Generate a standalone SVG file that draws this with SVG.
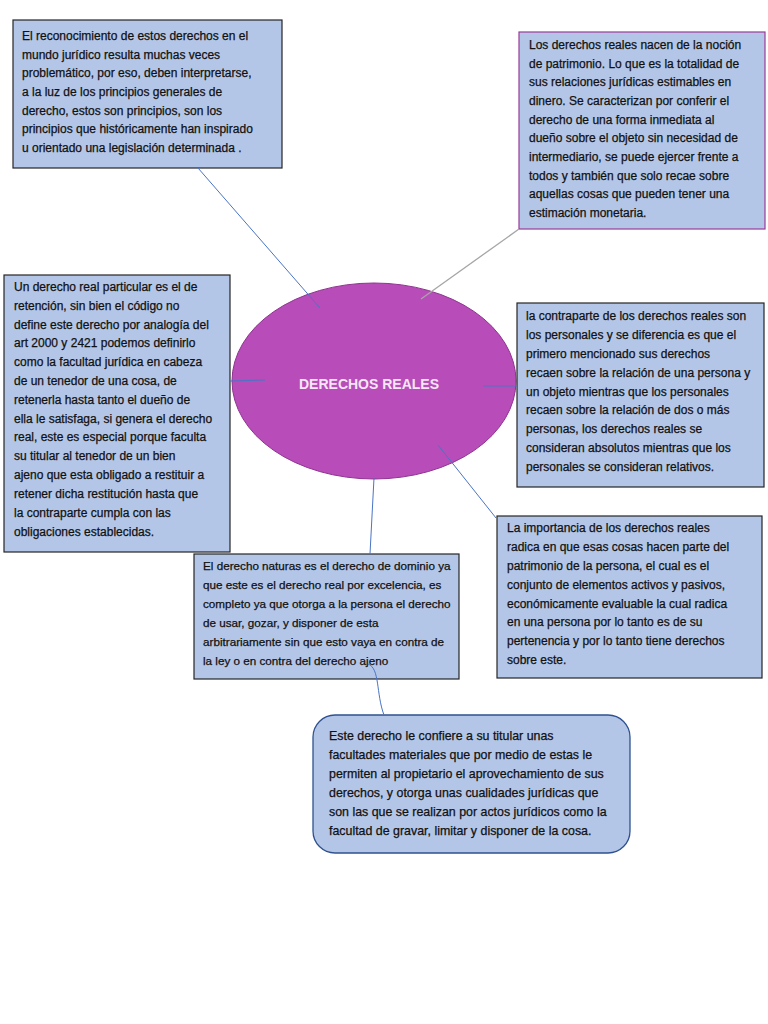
<svg xmlns="http://www.w3.org/2000/svg" width="768" height="1024" viewBox="0 0 768 1024">
<style>
.box{fill:#b4c6e7;stroke:#262626;stroke-width:1.2}
.t{font-family:"Liberation Sans",Arial,sans-serif;font-size:12px;fill:#111;stroke:#111;stroke-width:0.25}
.s{font-size:11.7px}
.r{font-size:12.4px}
.c{fill:none;stroke:#4a74c4;stroke-width:1}
</style>
<rect width="768" height="1024" fill="#ffffff"/>
<g id="n-center">
<ellipse cx="374" cy="381" rx="142" ry="98" fill="#b84cb9" stroke="#8e3490" stroke-width="1"/>
<text x="369" y="389" text-anchor="middle" font-family="Liberation Sans,Arial,sans-serif" font-weight="bold" font-size="14" fill="#f4e6f4">DERECHOS REALES</text>
</g>
<g id="n-topleft">
<rect class="box" x="13" y="20" width="269" height="148"/>
<text class="t"><tspan x="22" y="40">El reconocimiento de estos derechos en el</tspan><tspan x="22" y="59">mundo jurídico resulta muchas veces</tspan><tspan x="22" y="77">problemático, por eso, deben interpretarse,</tspan><tspan x="22" y="96">a la luz de los principios generales de</tspan><tspan x="22" y="115">derecho, estos son principios, son los</tspan><tspan x="22" y="133">principios que históricamente han inspirado</tspan><tspan x="22" y="152">u orientado una legislación determinada .</tspan></text>
</g>
<g id="n-topright">
<rect x="519" y="32" width="246" height="197" fill="#b4c6e7" stroke="#9b3a98" stroke-width="1.2"/>
<text class="t"><tspan x="529" y="49">Los derechos reales nacen de la noción</tspan><tspan x="529" y="68">de patrimonio. Lo que es la totalidad de</tspan><tspan x="529" y="86">sus relaciones jurídicas estimables en</tspan><tspan x="529" y="105">dinero. Se caracterizan por conferir el</tspan><tspan x="529" y="124">derecho de una forma inmediata al</tspan><tspan x="529" y="142">dueño sobre el objeto sin necesidad de</tspan><tspan x="529" y="161">intermediario, se puede ejercer frente a</tspan><tspan x="529" y="180">todos y también que solo recae sobre</tspan><tspan x="529" y="198">aquellas cosas que pueden tener una</tspan><tspan x="529" y="217">estimación monetaria.</tspan></text>
</g>
<g id="n-left">
<rect class="box" x="4" y="275" width="226" height="277"/>
<text class="t"><tspan x="14" y="291">Un derecho real particular es el de</tspan><tspan x="14" y="310">retención, sin bien el código no</tspan><tspan x="14" y="329">define este derecho por analogía del</tspan><tspan x="14" y="347">art 2000 y 2421 podemos definirlo</tspan><tspan x="14" y="366">como la facultad jurídica en cabeza</tspan><tspan x="14" y="385">de un tenedor de una cosa, de</tspan><tspan x="14" y="404">retenerla hasta tanto el dueño de</tspan><tspan x="14" y="423">ella le satisfaga, si genera el derecho</tspan><tspan x="14" y="441">real, este es especial porque faculta</tspan><tspan x="14" y="460">su titular al tenedor de un bien</tspan><tspan x="14" y="479">ajeno que esta obligado a restituir a</tspan><tspan x="14" y="498">retener dicha restitución hasta que</tspan><tspan x="14" y="517">la contraparte cumpla con las</tspan><tspan x="14" y="536">obligaciones establecidas.</tspan></text>
</g>
<g id="n-right">
<rect class="box" x="517" y="303" width="247" height="184"/>
<text class="t"><tspan x="526" y="320">la contraparte de los derechos reales son</tspan><tspan x="526" y="339">los personales y se diferencia es que el</tspan><tspan x="526" y="358">primero mencionado sus derechos</tspan><tspan x="526" y="377">recaen sobre la relación de una persona y</tspan><tspan x="526" y="396">un objeto mientras que los personales</tspan><tspan x="526" y="414">recaen sobre la relación de dos o más</tspan><tspan x="526" y="433">personas, los derechos reales se</tspan><tspan x="526" y="452">consideran absolutos mientras que los</tspan><tspan x="526" y="471">personales se consideran relativos.</tspan></text>
</g>
<g id="n-bottomright">
<rect class="box" x="497" y="516" width="265" height="162"/>
<text class="t"><tspan x="507" y="532">La importancia de los derechos reales</tspan><tspan x="507" y="551">radica en que esas cosas hacen parte del</tspan><tspan x="507" y="570">patrimonio de la persona, el cual es el</tspan><tspan x="507" y="589">conjunto de elementos activos y pasivos,</tspan><tspan x="507" y="608">económicamente evaluable la cual radica</tspan><tspan x="507" y="626">en una persona por lo tanto es de su</tspan><tspan x="507" y="645">pertenencia y por lo tanto tiene derechos</tspan><tspan x="507" y="664">sobre este.</tspan></text>
</g>
<g id="n-bottommid">
<rect class="box" x="194" y="554" width="265" height="125"/>
<text class="t s"><tspan x="203" y="570">El derecho naturas es el derecho de dominio ya</tspan><tspan x="203" y="589">que este es el derecho real por excelencia, es</tspan><tspan x="203" y="608">completo ya que otorga a la persona el derecho</tspan><tspan x="203" y="627">de usar, gozar, y disponer de esta</tspan><tspan x="203" y="646">arbitrariamente sin que esto vaya en contra de</tspan><tspan x="203" y="665">la ley o en contra del derecho ajeno</tspan></text>
</g>
<g id="n-rounded">
<rect x="313" y="715" width="317" height="138" rx="22" ry="22" fill="#b4c6e7" stroke="#2f528f" stroke-width="1.3"/>
<text class="t r"><tspan x="329" y="740">Este derecho le confiere a su titular unas</tspan><tspan x="329" y="759">facultades materiales que por medio de estas le</tspan><tspan x="329" y="778">permiten al propietario el aprovechamiento de sus</tspan><tspan x="329" y="797">derechos, y otorga unas cualidades jurídicas que</tspan><tspan x="329" y="816">son las que se realizan por actos jurídicos como la</tspan><tspan x="329" y="835">facultad de gravar, limitar y disponer de la cosa.</tspan></text>
</g>
<g id="connectors">
<line class="c" x1="198" y1="168" x2="320" y2="308"/>
<line x1="519" y1="229" x2="421" y2="299" stroke="#a6a6a6" stroke-width="1.3"/>
<line class="c" x1="230" y1="381" x2="265" y2="380"/>
<line class="c" x1="483" y1="386" x2="517" y2="386"/>
<line class="c" x1="438" y1="445" x2="496" y2="518"/>
<line class="c" x1="374" y1="478" x2="370" y2="554"/>
<path class="c" d="M368,664 C380,668 376,694 384,715"/>
</g>
</svg>
